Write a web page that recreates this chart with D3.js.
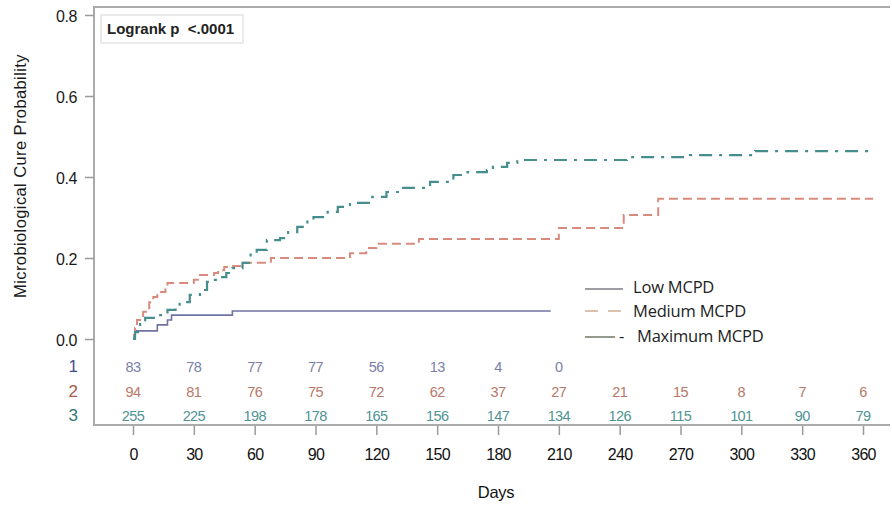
<!DOCTYPE html>
<html>
<head>
<meta charset="utf-8">
<script src="https://cdn.jsdelivr.net/npm/d3@7"></script>
<style>
  body { margin: 0; background: #fff; }
  svg { display: block; }
</style>
</head>
<body>
<script>
  //-----------------------------DATA------------------------------//
  // KM steps as [day, cumulative cure probability]
  const lowMcpd = [
    [0, 0], [0.5, 0.01], [1, 0.02], [12, 0.035], [17, 0.047], [19, 0.059],
    [49, 0.069], [206, 0.069]
  ];
  const mediumMcpd = [
    [0, 0.01], [1, 0.027], [2, 0.047], [5, 0.067], [8, 0.091], [10, 0.104],
    [12, 0.116], [16, 0.128], [17, 0.138], [30, 0.146], [32, 0.158], [40, 0.163],
    [42, 0.17], [45, 0.178], [48, 0.18], [54, 0.188], [68, 0.2], [107, 0.212],
    [115, 0.225], [120, 0.235], [141, 0.247], [210, 0.274], [242, 0.306],
    [259, 0.346], [365, 0.346]
  ];
  const maximumMcpd = [
    [0, 0], [1, 0.017], [3.5, 0.04], [6, 0.052], [11, 0.059], [17, 0.072],
    [21, 0.079], [23, 0.091], [28, 0.109], [33, 0.121], [36.5, 0.141],
    [39.5, 0.146], [43, 0.153], [46, 0.163], [49, 0.175], [54, 0.188],
    [58, 0.212], [61, 0.22], [66, 0.244], [72.5, 0.249], [76.5, 0.264],
    [81, 0.277], [86, 0.294], [89, 0.301], [96, 0.314], [101, 0.326],
    [107, 0.336], [118, 0.351], [125, 0.363], [132, 0.373], [146.5, 0.388],
    [158, 0.405], [165, 0.412], [174.5, 0.417], [177.5, 0.425], [184.5, 0.435],
    [189.5, 0.442], [243.6, 0.449], [274.7, 0.454], [306.8, 0.464], [365, 0.464]
  ];

  const dayTicks = [0, 30, 60, 90, 120, 150, 180, 210, 240, 270, 300, 330, 360];
  const probTicks = [0, 0.2, 0.4, 0.6, 0.8];

  // numbers at risk
  const riskRowLabels = ["1", "2", "3"];
  const atRiskLow = [83, 78, 77, 77, 56, 13, 4, 0];
  const atRiskMedium = [94, 81, 76, 75, 72, 62, 37, 27, 21, 15, 8, 7, 6];
  const atRiskMaximum = [255, 225, 198, 178, 165, 156, 147, 134, 126, 115, 101, 90, 79];

  const legendNames = ["Low MCPD", "Medium MCPD", "Maximum MCPD"];

  //-----------------------------SVG------------------------------//
  const width = 892;
  const height = 505;
  const frameL = 94, frameT = 7, frameR = 890, frameB = 425;

  const svg = d3
    .select("body")
    .append("svg")
    .attr("width", width)
    .attr("height", height)
    .style("font-family", "'Liberation Sans', Arial, sans-serif");

  //----------------------------SCALES-----------------------------//
  const xScale = d3.scaleLinear().domain([0, 360]).range([133, 863]);
  const yScale = d3.scaleLinear().domain([0, 0.8]).range([339, 15]);

  //-----------------------------FRAME------------------------------//
  svg
    .append("path")
    .attr("d", `M${frameR},${frameT}H${frameL}V${frameB}H${frameR}`)
    .attr("fill", "none")
    .attr("stroke", "#ababab")
    .attr("stroke-width", 2);

  //-----------------------------AXES------------------------------//
  const yaxis = d3
    .axisLeft(yScale)
    .tickValues(probTicks)
    .tickFormat(d3.format(".1f"))
    .tickSize(9)
    .tickPadding(8);

  const yg = svg
    .append("g")
    .attr("transform", "translate(" + frameL + ",0)")
    .call(yaxis);
  yg.select(".domain").remove();
  yg.selectAll(".tick line").attr("stroke", "#9a9a9a").attr("stroke-width", 1.5);
  yg.selectAll(".tick text")
    .attr("dy", "0.42em")
    .style("font-size", "16px")
    .style("letter-spacing", "-0.4px")
    .attr("fill", "#1a1a1a");

  const xaxis = d3
    .axisBottom(xScale)
    .tickValues(dayTicks)
    .tickSize(9)
    .tickPadding(14);

  const xg = svg
    .append("g")
    .attr("transform", "translate(0," + (frameB + 1) + ")")
    .call(xaxis);
  xg.select(".domain").remove();
  xg.selectAll(".tick line").attr("stroke", "#9a9a9a").attr("stroke-width", 1.5);
  xg.selectAll(".tick text")
    .style("font-size", "16px")
    .style("letter-spacing", "-0.7px")
    .attr("fill", "#111");

  svg
    .append("text")
    .attr("x", 496)
    .attr("y", 498)
    .attr("text-anchor", "middle")
    .style("font-size", "16.5px")
    .style("letter-spacing", "-0.3px")
    .attr("fill", "#111")
    .text("Days");

  svg
    .append("text")
    .attr("transform", "translate(26,176) rotate(-90)")
    .attr("text-anchor", "middle")
    .style("font-size", "16.5px")
    .style("letter-spacing", "0.4px")
    .attr("fill", "#1a1a1a")
    .text("Microbiological Cure Probability");

  //----------------------------LINES------------------------------//
  const line = d3
    .line()
    .curve(d3.curveStepAfter)
    .x(function (d) { return xScale(d[0]); })
    .y(function (d) { return yScale(d[1]); });

  const series = [
    { values: lowMcpd, color: "#6f72a2", dash: null, w: 1.6 },
    { values: mediumMcpd, color: "#d98a7e", dash: "9,5", w: 2 },
    { values: maximumMcpd, color: "#468e8e", dash: "13,7,3,7", w: 2.2 }
  ];

  svg
    .selectAll("path.km")
    .data(series)
    .enter()
    .append("path")
    .attr("class", "km")
    .attr("d", function (d) { return line(d.values); })
    .attr("fill", "none")
    .attr("stroke", function (d) { return d.color; })
    .attr("stroke-width", function (d) { return d.w; })
    .attr("stroke-dasharray", function (d) { return d.dash; });

  //---------------------------LOGRANK-----------------------------//
  svg
    .append("rect")
    .attr("x", 101)
    .attr("y", 15)
    .attr("width", 142)
    .attr("height", 28)
    .attr("fill", "#fff")
    .attr("stroke", "#d6d6d6");

  svg
    .append("text")
    .attr("x", 107)
    .attr("y", 33.5)
    .style("font-size", "15px")
    .style("font-weight", "bold")
    .style("white-space", "pre")
    .attr("fill", "#222")
    .text("Logrank p  <.0001");

  //---------------------------AT RISK-----------------------------//
  const riskRows = [
    { label: riskRowLabels[0], values: atRiskLow, y: 372, lab: "#42508e", num: "#7b80aa" },
    { label: riskRowLabels[1], values: atRiskMedium, y: 397, lab: "#a85a4a", num: "#b87868" },
    { label: riskRowLabels[2], values: atRiskMaximum, y: 421, lab: "#2f7878", num: "#4f9393" }
  ];

  const rows = svg.selectAll("g.risk").data(riskRows).enter().append("g").attr("class", "risk");

  rows
    .append("text")
    .attr("x", 78)
    .attr("y", function (d) { return d.y; })
    .attr("text-anchor", "end")
    .style("font-size", "17px")
    .attr("fill", function (d) { return d.lab; })
    .text(function (d) { return d.label; });

  rows
    .selectAll("text.n")
    .data(function (d) {
      return d.values.map(function (v, i) {
        return { v: v, day: dayTicks[i], y: d.y, color: d.num };
      });
    })
    .enter()
    .append("text")
    .attr("class", "n")
    .attr("x", function (d) { return xScale(d.day); })
    .attr("y", function (d) { return d.y; })
    .attr("text-anchor", "middle")
    .style("font-size", "14.5px")
    .style("letter-spacing", "-0.6px")
    .attr("fill", function (d) { return d.color; })
    .text(function (d) { return d.v; });

  //---------------------------LEGEND------------------------------//
  const legendItems = [
    { name: legendNames[0], y: 293, x: 633, color: "#7e7c86", dash: null, x2: 623, lineY: 289 },
    { name: legendNames[1], y: 317, x: 633, color: "#cdae94", dash: "13,10", x2: 623, lineY: 311 },
    { name: legendNames[2], y: 342, x: 637, color: "#6f7a66", dash: null, x2: 615, lineY: 337 }
  ];

  const legend = svg.selectAll("g.legend").data(legendItems).enter().append("g").attr("class", "legend");

  legend
    .append("line")
    .attr("x1", 585)
    .attr("x2", function (d) { return d.x2; })
    .attr("y1", function (d) { return d.lineY; })
    .attr("y2", function (d) { return d.lineY; })
    .attr("stroke", function (d) { return d.color; })
    .attr("stroke-width", 1.5)
    .attr("stroke-dasharray", function (d) { return d.dash; });

  legend
    .append("text")
    .attr("x", function (d) { return d.x; })
    .attr("y", function (d) { return d.y; })
    .style("font-family", "'Open Sans', 'Noto Sans', sans-serif")
    .style("font-size", "16.5px")
    .style("letter-spacing", "-0.2px")
    .attr("fill", "#222")
    .text(function (d) { return d.name; });

  svg
    .append("text")
    .attr("x", 619)
    .attr("y", 342)
    .style("font-family", "'Open Sans', 'Noto Sans', sans-serif")
    .style("font-size", "16.5px")
    .attr("fill", "#222")
    .text("-");
</script>
</body>
</html>
